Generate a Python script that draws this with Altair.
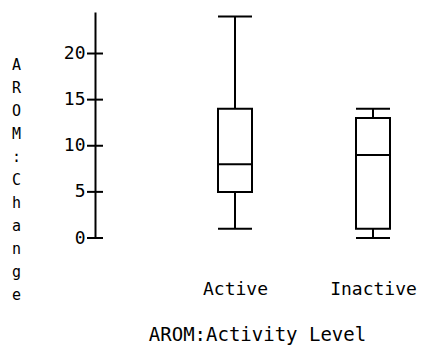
import altair as alt
import pandas as pd

categories = ["Active", "Inactive"]
mins = [1, 0]
q1s = [5, 1]
medians = [8, 9]
q3s = [14, 13]
maxs = [24, 14]
tick_values = [0, 5, 10, 15, 20]
y_title = ["A", "R", "O", "M", ":", "C", "h", "a", "n", "g", "e"]
x_title = "AROM:Activity Level"

df = pd.DataFrame({"level": categories, "lo": mins, "q1": q1s,
                   "med": medians, "q3": q3s, "hi": maxs})
ticks_df = pd.DataFrame({"v": tick_values})

FONT = "DejaVu Sans Mono"
LW = 2
BOXW = 34

x_scale = alt.Scale(type="point", domain=categories, range=[140, 278], padding=0)
y_scale = alt.Scale(domain=[0, 24.5], nice=False, zero=False)

x_enc = alt.X("level:N", scale=x_scale, axis=alt.Axis(
    title=x_title, domain=False, ticks=False, tickSize=0, labelPadding=42,
    labelFont=FONT, labelFontSize=18, labelColor="black", labelAngle=0,
    titleFont=FONT, titleFontSize=19, titleFontWeight="normal", titleColor="black",
    titleX=162, titleAlign="center", titleY=87, titleBaseline="top"))

y_axis = alt.Axis(
    title=y_title, titleAngle=0, titleX=-79, titleY=45, titleAlign="center",
    titleBaseline="top", titleLineHeight=23, titleFont=FONT, titleFontSize=15,
    titleFontWeight="normal", titleColor="black", values=tick_values,
    domainColor="black", domainWidth=LW, ticks=False, tickSize=8,
    labelPadding=10, labelFont=FONT, labelFontSize=18,
    labelColor="black", grid=False)

base = alt.Chart(df)

whisker = base.mark_rule(color="black", strokeWidth=LW).encode(
    x=x_enc, y=alt.Y("lo:Q", scale=y_scale, axis=y_axis), y2="hi:Q")
box = base.mark_bar(size=BOXW, fill="white", stroke="black", strokeWidth=LW).encode(
    x=x_enc, y=alt.Y("q1:Q", scale=y_scale), y2="q3:Q")
median = base.mark_tick(size=BOXW, thickness=LW, color="black", opacity=1).encode(
    x=x_enc, y=alt.Y("med:Q", scale=y_scale))
cap_lo = base.mark_tick(size=BOXW, thickness=LW, color="black", opacity=1).encode(
    x=x_enc, y=alt.Y("lo:Q", scale=y_scale))
cap_hi = base.mark_tick(size=BOXW, thickness=LW, color="black", opacity=1).encode(
    x=x_enc, y=alt.Y("hi:Q", scale=y_scale))
axis_ticks = alt.Chart(ticks_df).mark_tick(
    orient="horizontal", size=16, thickness=LW, color="black", opacity=1).encode(
    y=alt.Y("v:Q", scale=y_scale), x=alt.value(0))

chart = alt.layer(whisker, box, median, cap_lo, cap_hi, axis_ticks).properties(
    width=327, height=226,
    autosize=alt.AutoSizeParams(type="none"),
    padding={"left": 95, "top": 12, "right": 0, "bottom": 109},
    background="white",
).configure_view(stroke=None)

chart.save("out.html", embed_options={"renderer": "svg", "actions": False})
